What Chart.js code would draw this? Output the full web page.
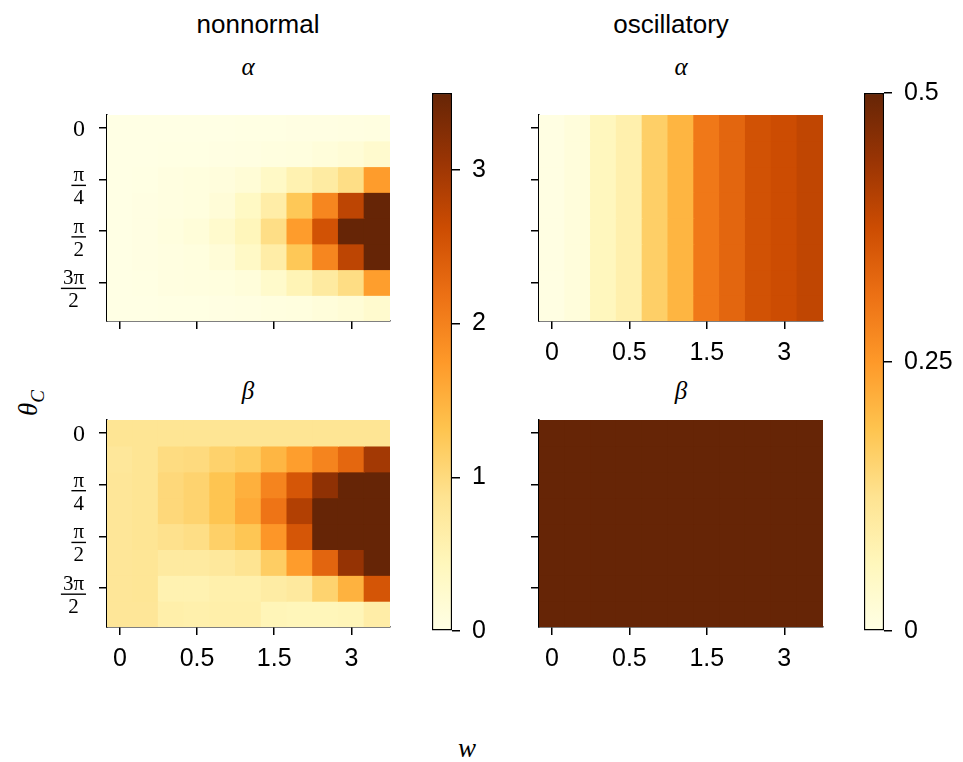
<!DOCTYPE html>
<html>
<head>
<meta charset="utf-8">
<script src="https://cdn.jsdelivr.net/npm/chart.js@4.4.0/dist/chart.umd.min.js"></script>
<style>
  body { margin: 0; background: #fff; width: 963px; height: 762px; position: relative; overflow: hidden; font-family: "Liberation Sans", Arial, sans-serif; }
  canvas { position: absolute; }
  .t { position: absolute; transform: translate(-50%, -50%); white-space: nowrap; color: #000; line-height: 1; }
  .m { font-family: "Liberation Serif", "DejaVu Serif", serif; font-style: italic; }
</style>
</head>
<body>
<div class="t" style="left:258px;top:24px;font-size:26px">nonnormal</div>
<div class="t" style="left:671px;top:24px;font-size:26px">oscillatory</div>
<div class="t m" style="left:248px;top:66px;font-size:25px">α</div>
<div class="t m" style="left:681px;top:66px;font-size:25px">α</div>
<div class="t m" style="left:248px;top:390px;font-size:25px">β</div>
<div class="t m" style="left:681px;top:390px;font-size:25px">β</div>
<div class="t m" style="left:31px;top:403px;font-size:27px;transform:translate(-50%,-50%) rotate(-90deg)">θ<sub style="font-size:19px">C</sub></div>
<div class="t m" style="left:467px;top:748px;font-size:27px">w</div>

<canvas id="tl"></canvas>
<canvas id="bl"></canvas>
<canvas id="tr"></canvas>
<canvas id="br"></canvas>
<canvas id="cbl"></canvas>
<canvas id="cbr"></canvas>

<script>
// tick labels
const wTickCols = [0, 3, 6, 9];
const wLabels = ['0', '0.5', '1.5', '3'];
const thetaTickRows = [0, 2, 4, 6];
const thetaLabels = ['0', ['π', '4'], ['π', '2'], ['3π', '2']];

// colour limits and colourbar ticks
const nonnormalMax = 3.5;
const oscillatoryMax = 0.5;
const nonnormalCbTicks = [0, 1, 2, 3];
const oscillatoryCbTicks = [0, 0.25, 0.5];

// rows = theta_C (top to bottom), columns = w
const nonnormalAlpha = [
  [0.01, 0.01, 0.01, 0.01, 0.01, 0.02, 0.02, 0.03, 0.03, 0.04, 0.05],
  [0.01, 0.01, 0.02, 0.02, 0.03, 0.04, 0.06, 0.08, 0.12, 0.16, 0.25],
  [0.01, 0.02, 0.05, 0.07, 0.10, 0.16, 0.33, 0.55, 0.70, 0.95, 1.72],
  [0.01, 0.03, 0.05, 0.08, 0.15, 0.35, 0.65, 1.26, 1.95, 2.75, 3.50],
  [0.01, 0.03, 0.07, 0.13, 0.26, 0.45, 0.95, 1.72, 2.55, 3.50, 3.50],
  [0.01, 0.03, 0.05, 0.08, 0.15, 0.33, 0.65, 1.26, 1.95, 2.75, 3.50],
  [0.01, 0.02, 0.05, 0.06, 0.08, 0.12, 0.28, 0.50, 0.72, 0.96, 1.70],
  [0.01, 0.01, 0.02, 0.02, 0.03, 0.04, 0.06, 0.08, 0.12, 0.16, 0.25]
];
const nonnormalBeta = [
  [0.84, 0.84, 0.84, 0.84, 0.84, 0.84, 0.84, 0.84, 0.84, 0.84, 0.84],
  [0.78, 0.84, 0.98, 1.00, 1.12, 1.20, 1.45, 1.70, 1.97, 2.30, 2.98],
  [0.80, 0.84, 1.03, 1.10, 1.30, 1.52, 1.97, 2.50, 3.15, 3.50, 3.50],
  [0.80, 0.84, 1.03, 1.10, 1.30, 1.58, 2.15, 2.85, 3.50, 3.50, 3.50],
  [0.80, 0.84, 0.90, 0.95, 1.15, 1.28, 1.78, 2.50, 3.50, 3.50, 3.50],
  [0.80, 0.82, 0.72, 0.72, 0.76, 0.86, 1.18, 1.72, 2.32, 3.10, 3.50],
  [0.80, 0.82, 0.55, 0.55, 0.60, 0.60, 0.68, 0.74, 1.10, 1.50, 2.52],
  [0.80, 0.80, 0.62, 0.60, 0.62, 0.62, 0.48, 0.46, 0.46, 0.48, 0.65]
];
const oscillatoryAlpha = [
  [0.005, 0.015, 0.06, 0.085, 0.165, 0.21, 0.30, 0.33, 0.365, 0.375, 0.39],
  [0.005, 0.015, 0.06, 0.085, 0.165, 0.21, 0.30, 0.33, 0.365, 0.375, 0.39],
  [0.005, 0.015, 0.06, 0.085, 0.165, 0.21, 0.30, 0.33, 0.365, 0.375, 0.39],
  [0.005, 0.015, 0.06, 0.085, 0.165, 0.21, 0.30, 0.33, 0.365, 0.375, 0.39],
  [0.005, 0.015, 0.06, 0.085, 0.165, 0.21, 0.30, 0.33, 0.365, 0.375, 0.39],
  [0.005, 0.015, 0.06, 0.085, 0.165, 0.21, 0.30, 0.33, 0.365, 0.375, 0.39],
  [0.005, 0.015, 0.06, 0.085, 0.165, 0.21, 0.30, 0.33, 0.365, 0.375, 0.39],
  [0.005, 0.015, 0.06, 0.085, 0.165, 0.21, 0.30, 0.33, 0.365, 0.375, 0.39]
];
const oscillatoryBeta = [
  [0.5, 0.5, 0.5, 0.5, 0.5, 0.5, 0.5, 0.5, 0.5, 0.5, 0.5],
  [0.5, 0.5, 0.5, 0.5, 0.5, 0.5, 0.5, 0.5, 0.5, 0.5, 0.5],
  [0.5, 0.5, 0.5, 0.5, 0.5, 0.5, 0.5, 0.5, 0.5, 0.5, 0.5],
  [0.5, 0.5, 0.5, 0.5, 0.5, 0.5, 0.5, 0.5, 0.5, 0.5, 0.5],
  [0.5, 0.5, 0.5, 0.5, 0.5, 0.5, 0.5, 0.5, 0.5, 0.5, 0.5],
  [0.5, 0.5, 0.5, 0.5, 0.5, 0.5, 0.5, 0.5, 0.5, 0.5, 0.5],
  [0.5, 0.5, 0.5, 0.5, 0.5, 0.5, 0.5, 0.5, 0.5, 0.5, 0.5],
  [0.5, 0.5, 0.5, 0.5, 0.5, 0.5, 0.5, 0.5, 0.5, 0.5, 0.5]
];

// YlOrBr
const cmap = ['#ffffe5', '#fff7bc', '#fee391', '#fec44f', '#fe9929', '#ec7014', '#cc4c02', '#993404', '#662506'];
const cmapRgb = cmap.map(h => [1, 3, 5].map(i => parseInt(h.substr(i, 2), 16)));
function ylorbr(t) {
  t = Math.max(0, Math.min(1, t));
  const p = t * (cmap.length - 1);
  const i = Math.min(Math.floor(p), cmap.length - 2);
  const f = p - i;
  const a = cmapRgb[i], b = cmapRgb[i + 1];
  return 'rgb(' + a.map((v, k) => Math.round(v + (b[k] - v) * f)).join(',') + ')';
}

const SANS = '"Liberation Sans", Arial, sans-serif';
const SERIF = '"Liberation Serif", "DejaVu Serif", serif';
const axisGrid = { display: true, offset: false, drawOnChartArea: false, drawTicks: true, tickLength: 8, color: '#000', lineWidth: 1.5 };
const axisBorder = { display: true, color: '#000', width: 1.5 };

// fraction-style theta tick labels
const thetaPlugin = {
  id: 'thetaLabels',
  afterDraw(chart) {
    const ctx = chart.ctx;
    const ys = chart.scales.y;
    const right = chart.chartArea.left - 21;
    ctx.save();
    ctx.fillStyle = '#000';
    ctx.strokeStyle = '#000';
    thetaTickRows.forEach((row, i) => {
      const y = ys.getPixelForValue(row);
      const lab = thetaLabels[i];
      if (typeof lab === 'string') {
        ctx.font = '24px ' + SERIF;
        ctx.textAlign = 'right';
        ctx.textBaseline = 'middle';
        ctx.fillText(lab, right - 1, y + 2);
        return;
      }
      ctx.font = '21px ' + SERIF;
      const w = Math.max(ctx.measureText(lab[0]).width, ctx.measureText(lab[1]).width) + 4;
      const cx = right - w / 2;
      const barY = y + 6;
      ctx.lineWidth = 1.4;
      ctx.beginPath();
      ctx.moveTo(right - w, barY);
      ctx.lineTo(right, barY);
      ctx.stroke();
      ctx.textAlign = 'center';
      ctx.textBaseline = 'alphabetic';
      ctx.fillText(lab[0], cx, barY - 4);
      ctx.textBaseline = 'top';
      ctx.fillText(lab[1], cx, barY + 3);
    });
    ctx.restore();
  }
};

function place(id, left, top, width, height) {
  const c = document.getElementById(id);
  c.width = width; c.height = height;
  c.style.left = left + 'px'; c.style.top = top + 'px';
  c.style.width = width + 'px'; c.style.height = height + 'px';
  return c;
}

function heatmap(id, grid, vmax, box, showX, showY) {
  const yW = showY ? 100 : 40, xH = 60, padT = 20, padR = 10;
  const c = place(id, box.left - yW, box.top - padT, yW + box.w + padR, padT + box.h + xH);
  const datasets = grid.map((row, r) => ({
    data: row.map((v, col) => ({ x: col, y: [r - 0.5, r + 0.5], v: v })),
    backgroundColor: ctx => ylorbr(ctx.raw.v / vmax),
    borderWidth: 0,
    inflateAmount: 0.6,
    clip: 0,
    grouped: false,
    barPercentage: 1,
    categoryPercentage: 1
  }));
  return new Chart(c, {
    type: 'bar',
    data: { datasets },
    plugins: showY ? [thetaPlugin] : [],
    options: {
      responsive: false, animation: false,
      layout: { padding: { left: 0, top: padT, right: padR, bottom: 0 } },
      plugins: { legend: { display: false }, tooltip: { enabled: false } },
      scales: {
        x: {
          type: 'linear', min: -0.5, max: 10.5, offset: false, z: 1,
          afterBuildTicks: s => { s.ticks = wTickCols.map(v => ({ value: v })); },
          afterFit: s => { s.height = xH; },
          ticks: { display: showX, autoSkip: false, maxRotation: 0, padding: 9, color: '#000',
                   font: { family: SANS, size: 25 }, callback: (v, i) => wLabels[i] },
          grid: axisGrid, border: axisBorder
        },
        y: {
          type: 'linear', reverse: true, min: -0.5, max: 7.5, z: 1,
          afterBuildTicks: s => { s.ticks = thetaTickRows.map(v => ({ value: v })); },
          afterFit: s => { s.width = yW; },
          ticks: { display: false },
          grid: axisGrid, border: axisBorder
        }
      }
    }
  });
}

function colorbar(id, vmax, ticks, box) {
  const yW = 75, padT = 34, padR = 2;
  const c = place(id, box.left, box.top - padT, box.w + yW + padR, box.h + 2 * padT);
  return new Chart(c, {
    type: 'bar',
    data: {
      labels: [''],
      datasets: [{
        data: [[0, vmax]],
        backgroundColor: ctx => {
          const area = ctx.chart.chartArea;
          if (!area) return cmap[0];
          const g = ctx.chart.ctx.createLinearGradient(0, area.bottom, 0, area.top);
          cmap.forEach((col, i) => g.addColorStop(i / (cmap.length - 1), col));
          return g;
        },
        borderColor: '#000', borderWidth: 1.5, borderSkipped: false,
        barPercentage: 1, categoryPercentage: 1
      }]
    },
    options: {
      responsive: false, animation: false,
      layout: { padding: { left: 0, top: padT, right: padR, bottom: padT } },
      plugins: { legend: { display: false }, tooltip: { enabled: false } },
      scales: {
        x: { display: false },
        y: {
          position: 'right', min: 0, max: vmax, z: 1,
          afterBuildTicks: s => { s.ticks = ticks.map(v => ({ value: v })); },
          afterFit: s => { s.width = yW; },
          ticks: { padding: 12, color: '#000', font: { family: SANS, size: 25 }, callback: v => String(v) },
          grid: axisGrid, border: { display: false }
        }
      }
    }
  });
}

heatmap('tl', nonnormalAlpha, nonnormalMax, { left: 107, top: 115, w: 283, h: 206 }, false, true);
heatmap('bl', nonnormalBeta, nonnormalMax, { left: 107, top: 420, w: 283, h: 207 }, true, true);
heatmap('tr', oscillatoryAlpha, oscillatoryMax, { left: 539, top: 115, w: 284, h: 206 }, true, false);
heatmap('br', oscillatoryBeta, oscillatoryMax, { left: 539, top: 420, w: 284, h: 207 }, true, false);
colorbar('cbl', nonnormalMax, nonnormalCbTicks, { left: 432, top: 93, w: 20, h: 538 });
colorbar('cbr', oscillatoryMax, oscillatoryCbTicks, { left: 864, top: 93, w: 20, h: 538 });
</script>
</body>
</html>
